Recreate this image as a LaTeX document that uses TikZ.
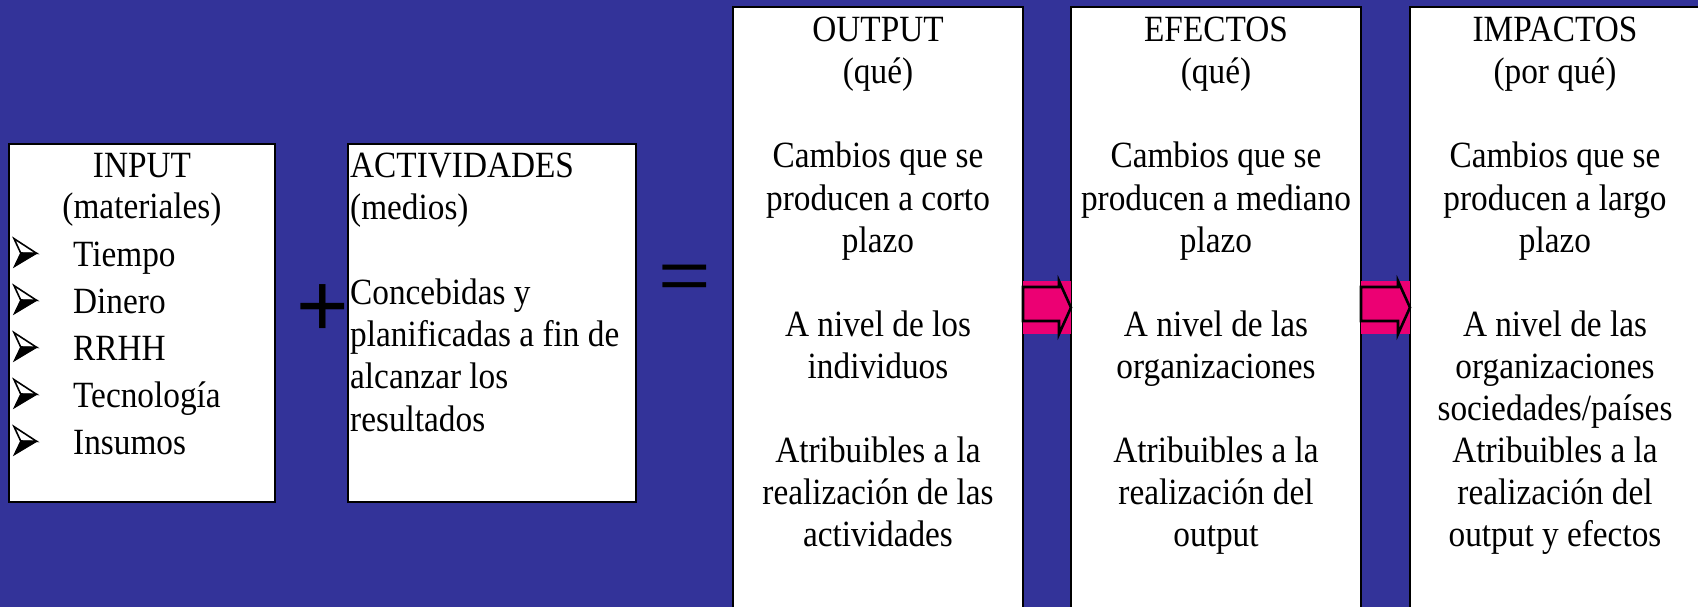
\documentclass[tikz,border=0pt]{standalone}
\usepackage{fontspec}
\usepackage{graphicx}
\setmainfont[FakeStretch=0.9]{Liberation Serif}
\newfontfamily\symfont{Liberation Sans}
\usetikzlibrary{calc}
\definecolor{bgblue}{RGB}{51,51,153}
\definecolor{arrowpink}{RGB}{236,0,115}
\tikzset{
  box/.style={draw=black, line width=2.6pt, fill=white, rectangle, inner sep=0pt, outer sep=0pt, anchor=north west},
  txt/.style={font=\fontsize{37}{42.1}\selectfont, inner sep=0pt, text=black},
  inptxt/.style={font=\fontsize{37}{41}\selectfont, inner sep=0pt, text=black},
  acttxt/.style={font=\fontsize{37}{42.3}\selectfont, inner sep=0pt, text=black},
  bulletlight/.style={fill=white, draw=black, line width=1.6pt, line join=miter},
  bulletdark/.style={fill=black, draw=black, line width=1pt, line join=miter},
  opsign/.style={font=\symfont\fontsize{90}{90}\selectfont, inner sep=0pt, text=black, anchor=base},
  fatarrow/.style={draw=black, line width=2.6pt, fill=arrowpink, line join=miter},
}
\begin{document}
\begin{tikzpicture}[x=1pt,y=-1pt]
\useasboundingbox (0,0) rectangle (1698,607);
\fill[bgblue] (0,0) rectangle (1698,607);
\begin{scope}
\clip (0,0) rectangle (1698,607);
% boxes
\node[box, minimum width=266pt, minimum height=358pt] (inp) at (9,144) {};
\node[box, minimum width=288pt, minimum height=358pt] (act) at (348,144) {};
\node[box, minimum width=290pt, minimum height=660pt] (out) at (733,7) {};
\node[box, minimum width=290pt, minimum height=660pt] (efe) at (1071,7) {};
\node[box, minimum width=290pt, minimum height=660pt] (imp) at (1410,7) {};
% arrows between boxes
\coordinate (rt) at (0,281);
\coordinate (rb) at (0,334);
\coordinate (st) at (0,287);
\coordinate (sb) at (0,321);
\coordinate (tp) at (0,307.5);
\foreach \a/\b in {out/efe, efe/imp}{
  \fill[arrowpink] (\a.east |- rt) rectangle (\b.west |- rb);
  \draw[fatarrow] (\a.east |- st) -- ($(\b.west |- st)+(-12,0)$) -- ($(\b.west |- rt)+(-12,0)$)
     -- (\b.west |- tp) -- ($(\b.west |- rb)+(-12,0)$) -- ($(\b.west |- sb)+(-12,0)$)
     -- (\a.east |- sb) -- cycle;
}
% operators
\node[opsign] (plus) at (323,336) {+};
\node[opsign] (eq) at (685,299) {\scalebox{1}[0.78]{=}};
% INPUT text
\node[inptxt, align=center, anchor=north] (inpT) at (142,148.3) {\strut INPUT\\(materiales)};
\foreach \t [count=\i] in {Tiempo,Dinero,RRHH,Tecnología,Insumos}{
  \pgfmathsetmacro{\yb}{266+47*(\i-1)}
  \node[inptxt, anchor=base west] (item\i) at (73,\yb) {\t};
  \draw[bulletlight] (14,{\yb-27.4}) -- (36.7,{\yb-12.6}) -- (20.7,{\yb-13}) -- cycle;
  \draw[bulletdark] (20.7,{\yb-13}) -- (36.7,{\yb-12.6}) -- (14,{\yb+1}) -- cycle;
}
% ACTIVIDADES text
\node[acttxt, align=left, anchor=north west] (actT) at (350,147.4) {\strut ACTIVIDADES\\(medios)\\[42.3pt]Concebidas y\\planificadas a fin de\\alcanzar los\\resultados};
% OUTPUT text
\node[txt, align=center, anchor=north] (outT) at (878,12) {\strut OUTPUT\\(qué)\\[42.1pt]Cambios que se\\producen a corto\\plazo\\[42.1pt]A nivel de los\\individuos\\[42.1pt]Atribuibles a la\\realización de las\\actividades};
% EFECTOS text
\node[txt, align=center, anchor=north] (efeT) at (1216,12) {\strut EFECTOS\\(qué)\\[42.1pt]Cambios que se\\producen a mediano\\plazo\\[42.1pt]A nivel de las\\organizaciones\\[42.1pt]Atribuibles a la\\realización del\\output};
% IMPACTOS text
\node[txt, align=center, anchor=north] (impT) at (1555,12) {\strut IMPACTOS\\(por qué)\\[42.1pt]Cambios que se\\producen a largo\\plazo\\[42.1pt]A nivel de las\\organizaciones\\sociedades/países\\Atribuibles a la\\realización del\\output y efectos};
\end{scope}
\end{tikzpicture}
\end{document}
